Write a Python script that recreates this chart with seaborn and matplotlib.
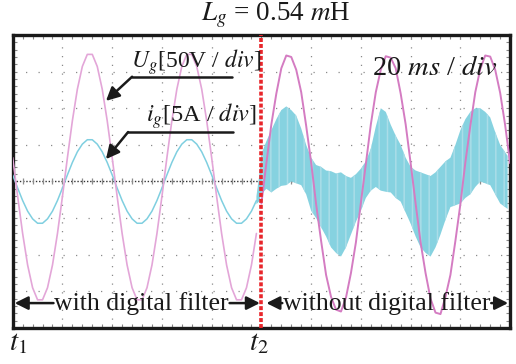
import numpy as np
import pandas as pd
import matplotlib
matplotlib.use("Agg")
import matplotlib.pyplot as plt
import seaborn as sns

# ---------------- data (in divisions) ----------------
# sample times (div), 0.1 div steps
time_div = np.round(np.arange(0, 101) * 0.1, 1)

# grid voltage Ug [50 V/div]
ug_left = [0.65, -0.41, -1.42, -2.28, -2.90, -3.23, -3.23, -2.90, -2.28, -1.42,
           -0.41, 0.65, 1.66, 2.52, 3.14, 3.47, 3.47, 3.14, 2.52, 1.66,
           0.65, -0.41, -1.42, -2.28, -2.90, -3.23, -3.23, -2.90, -2.28, -1.42,
           -0.41, 0.65, 1.66, 2.52, 3.14, 3.47, 3.47, 3.14, 2.52, 1.66,
           0.65, -0.41, -1.42, -2.28, -2.90, -3.23, -3.23, -2.90, -2.28, -1.42]
ug_right = [-0.60, 0.50, 1.56, 2.40, 3.09, 3.44, 3.40, 3.05, 2.44, 1.52,
            0.52, -0.62, -1.62, -2.55, -3.15, -3.50, -3.55, -3.17, -2.50, -1.66,
            -0.58, 0.48, 1.56, 2.44, 3.05, 3.42, 3.38, 3.09, 2.40, 1.56,
            0.50, -0.60, -1.66, -2.50, -3.20, -3.58, -3.62, -3.15, -2.55, -1.62,
            -0.62, 0.52, 1.52, 2.44, 3.07, 3.44, 3.41, 3.05, 2.42, 1.54, 0.50]

# grid current ig [5 A/div], with digital filter
ig_left = [0.18, -0.18, -0.52, -0.81, -1.02, -1.14, -1.14, -1.02, -0.81, -0.52,
           -0.18, 0.18, 0.52, 0.81, 1.02, 1.14, 1.14, 1.02, 0.81, 0.52,
           0.18, -0.18, -0.52, -0.81, -1.02, -1.14, -1.14, -1.02, -0.81, -0.52,
           -0.18, 0.18, 0.52, 0.81, 1.02, 1.14, 1.14, 1.02, 0.81, 0.52,
           0.18, -0.18, -0.52, -0.81, -1.02, -1.14, -1.14, -1.02, -0.81, -0.52]

# grid current without digital filter: ripple envelope
band_t = [4.90, 4.95, 5.00, 5.10, 5.20, 5.30, 5.40, 5.50, 5.60, 5.70, 5.80, 5.90,
          6.00, 6.10, 6.20, 6.30, 6.40, 6.50, 6.60, 6.70, 6.80, 6.90, 7.00, 7.10,
          7.20, 7.30, 7.40, 7.50, 7.60, 7.70, 7.80, 7.90, 8.00, 8.10, 8.20, 8.30,
          8.40, 8.50, 8.60, 8.70, 8.80, 8.90, 9.00, 9.10, 9.20, 9.30, 9.40, 9.50,
          9.60, 9.70, 9.80, 9.95]
band_upper = [-0.40, 0.10, 0.75, 1.10, 1.40, 1.70, 1.95, 2.05, 1.95, 1.80, 1.45, 1.00,
              0.65, 0.45, 0.40, 0.30, 0.28, 0.22, 0.25, 0.15, 0.10, 0.20, 0.35, 0.55,
              0.90, 1.50, 2.00, 1.90, 1.55, 1.25, 1.00, 0.65, 0.40, 0.30, 0.25, 0.20,
              0.15, 0.25, 0.40, 0.55, 0.65, 1.00, 1.40, 1.70, 1.90, 2.00, 2.00, 1.90,
              1.75, 1.35, 1.00, 0.70]
band_lower = [-0.62, -0.55, -0.35, -0.20, -0.30, -0.20, -0.12, -0.10, 0.00, -0.05, -0.10, -0.35,
              -0.80, -1.00, -1.25, -1.50, -1.80, -1.95, -2.05, -1.80, -1.45, -1.10, -0.80, -0.45,
              -0.25, -0.15, -0.25, -0.28, -0.30, -0.45, -0.55, -0.85, -1.15, -1.50, -1.80, -1.95,
              -2.05, -1.80, -1.45, -1.05, -0.70, -0.65, -0.60, -0.45, -0.35, -0.15, 0.00, -0.05,
              -0.10, -0.35, -0.60, -0.75]

# ---------------- styling ----------------
sns.set_theme(style="white")
plt.rcParams["font.family"] = ["Liberation Serif", "DejaVu Serif"]
plt.rcParams["mathtext.fontset"] = "stix"
plt.rcParams["hatch.linewidth"] = 1.1

PINK_L = "#e3a6d8"
PINK_R = "#d47cc2"
CYAN = "#7fcfe0"
BAND = "#86d2e0"
INK = "#1a1a1a"

fig = plt.figure(figsize=(5.16, 3.64), dpi=100)
ax = fig.add_axes([0.0246, 0.0989, 0.964, 0.805])
ax.set_xlim(0, 10)
ax.set_ylim(-4, 4)

# scope graticule
for gx in [1, 2, 3, 4, 6, 7, 8, 9]:
    ax.axvline(gx, color="#8a8a8a", lw=0.9, ls=(0, (1, 6)), zorder=1)
for gy in [-3, -2, -1, 1, 2, 3]:
    ax.axhline(gy, color="#8a8a8a", lw=0.9, ls=(0, (1, 9)), zorder=1)
ax.axhline(0, color="#333333", lw=1.0, ls=(0, (1, 1.3)), zorder=1)
minor = np.round(np.arange(0.2, 10, 0.2), 1)
ax.plot(minor, np.zeros_like(minor), ls="none", marker="|", ms=4.5, mew=0.9,
        color="#8c8c8c", zorder=1)

ax.set_xticks(np.arange(0, 10.01, 1))
ax.set_xticks(minor, minor=True)
ax.set_yticks(np.arange(-4, 4.01, 1))
ax.set_yticks(np.round(np.arange(-3.8, 4, 0.2), 1), minor=True)
ax.tick_params(which="both", direction="in", top=True, right=True, bottom=True,
               left=True, labelbottom=False, labelleft=False, color="#888888",
               length=3, width=0.8)
for sp in ax.spines.values():
    sp.set_linewidth(2.4)
    sp.set_color(INK)

# traces
df_left = pd.DataFrame({"t": time_div[:50], "ug": ug_left, "ig": ig_left})
df_right = pd.DataFrame({"t": time_div[50:], "ug": ug_right})

ax.fill_between(band_t, band_lower, band_upper, facecolor=BAND, edgecolor="#aadde8",
                hatch="||", linewidth=0, zorder=2)
sns.lineplot(data=df_left, x="t", y="ig", ax=ax, color=CYAN, lw=1.1, zorder=3)
sns.lineplot(data=df_left, x="t", y="ug", ax=ax, color=PINK_L, lw=1.2, zorder=4)
sns.lineplot(data=df_right, x="t", y="ug", ax=ax, color=PINK_R, lw=1.4, zorder=4)
ax.set_xlabel("")
ax.set_ylabel("")

# t2 marker
ax.axvline(5.0, color="#e8262b", lw=2.6, ls=(0, (1.1, 0.55)), zorder=6, clip_on=False)

# annotations
arrow = dict(arrowstyle="-|>", color=INK, lw=1.8, mutation_scale=20,
             shrinkA=0, shrinkB=0)
ax.text(5.0, 3.1, r"$U_g$[50V / $div$]", ha="right", va="baseline", fontsize=17,
        color=INK, zorder=7)
ax.plot([4.4, 2.4], [2.86, 2.86], color=INK, lw=1.8, zorder=7)
ax.annotate("", xy=(1.875, 2.2), xytext=(2.4, 2.86), arrowprops=arrow, zorder=7)

ax.text(4.9, 1.63, r"$i_g$[5A / $div$]", ha="right", va="baseline", fontsize=17.5,
        color=INK, zorder=7)
ax.plot([4.42, 2.32], [1.35, 1.35], color=INK, lw=1.8, zorder=7)
ax.annotate("", xy=(1.875, 0.61), xytext=(2.32, 1.35), arrowprops=arrow, zorder=7)

ax.text(9.75, 2.91, r"20 $ms$ / $div$", ha="right", va="baseline", fontsize=20.5,
        color=INK, zorder=7)

# bottom span labels
ax.text(2.59, -3.51, "with digital filter", ha="center", va="baseline",
        fontsize=18.5, color=INK, zorder=7)
ax.annotate("", xy=(0.04, -3.32), xytext=(0.82, -3.32), arrowprops=arrow, zorder=7)
ax.annotate("", xy=(4.97, -3.32), xytext=(4.36, -3.32), arrowprops=arrow, zorder=7)

ax.text(7.52, -3.51, "without digital filter", ha="center", va="baseline",
        fontsize=18.5, color=INK, zorder=7)
ax.annotate("", xy=(5.1, -3.32), xytext=(5.42, -3.32), arrowprops=arrow, zorder=7)
ax.annotate("", xy=(9.96, -3.32), xytext=(9.62, -3.32), arrowprops=arrow, zorder=7)

ax.text(0.1, -4.6, r"$t_1$", ha="center", va="baseline", fontsize=21, color=INK,
        clip_on=False)
ax.text(4.95, -4.6, r"$t_2$", ha="center", va="baseline", fontsize=21, color=INK,
        clip_on=False)

fig.text(0.534, 0.945, r"$L_g$ = 0.54 $m$H", ha="center", va="baseline",
         fontsize=19.5, color=INK)

fig.savefig("out.png", dpi=100)
